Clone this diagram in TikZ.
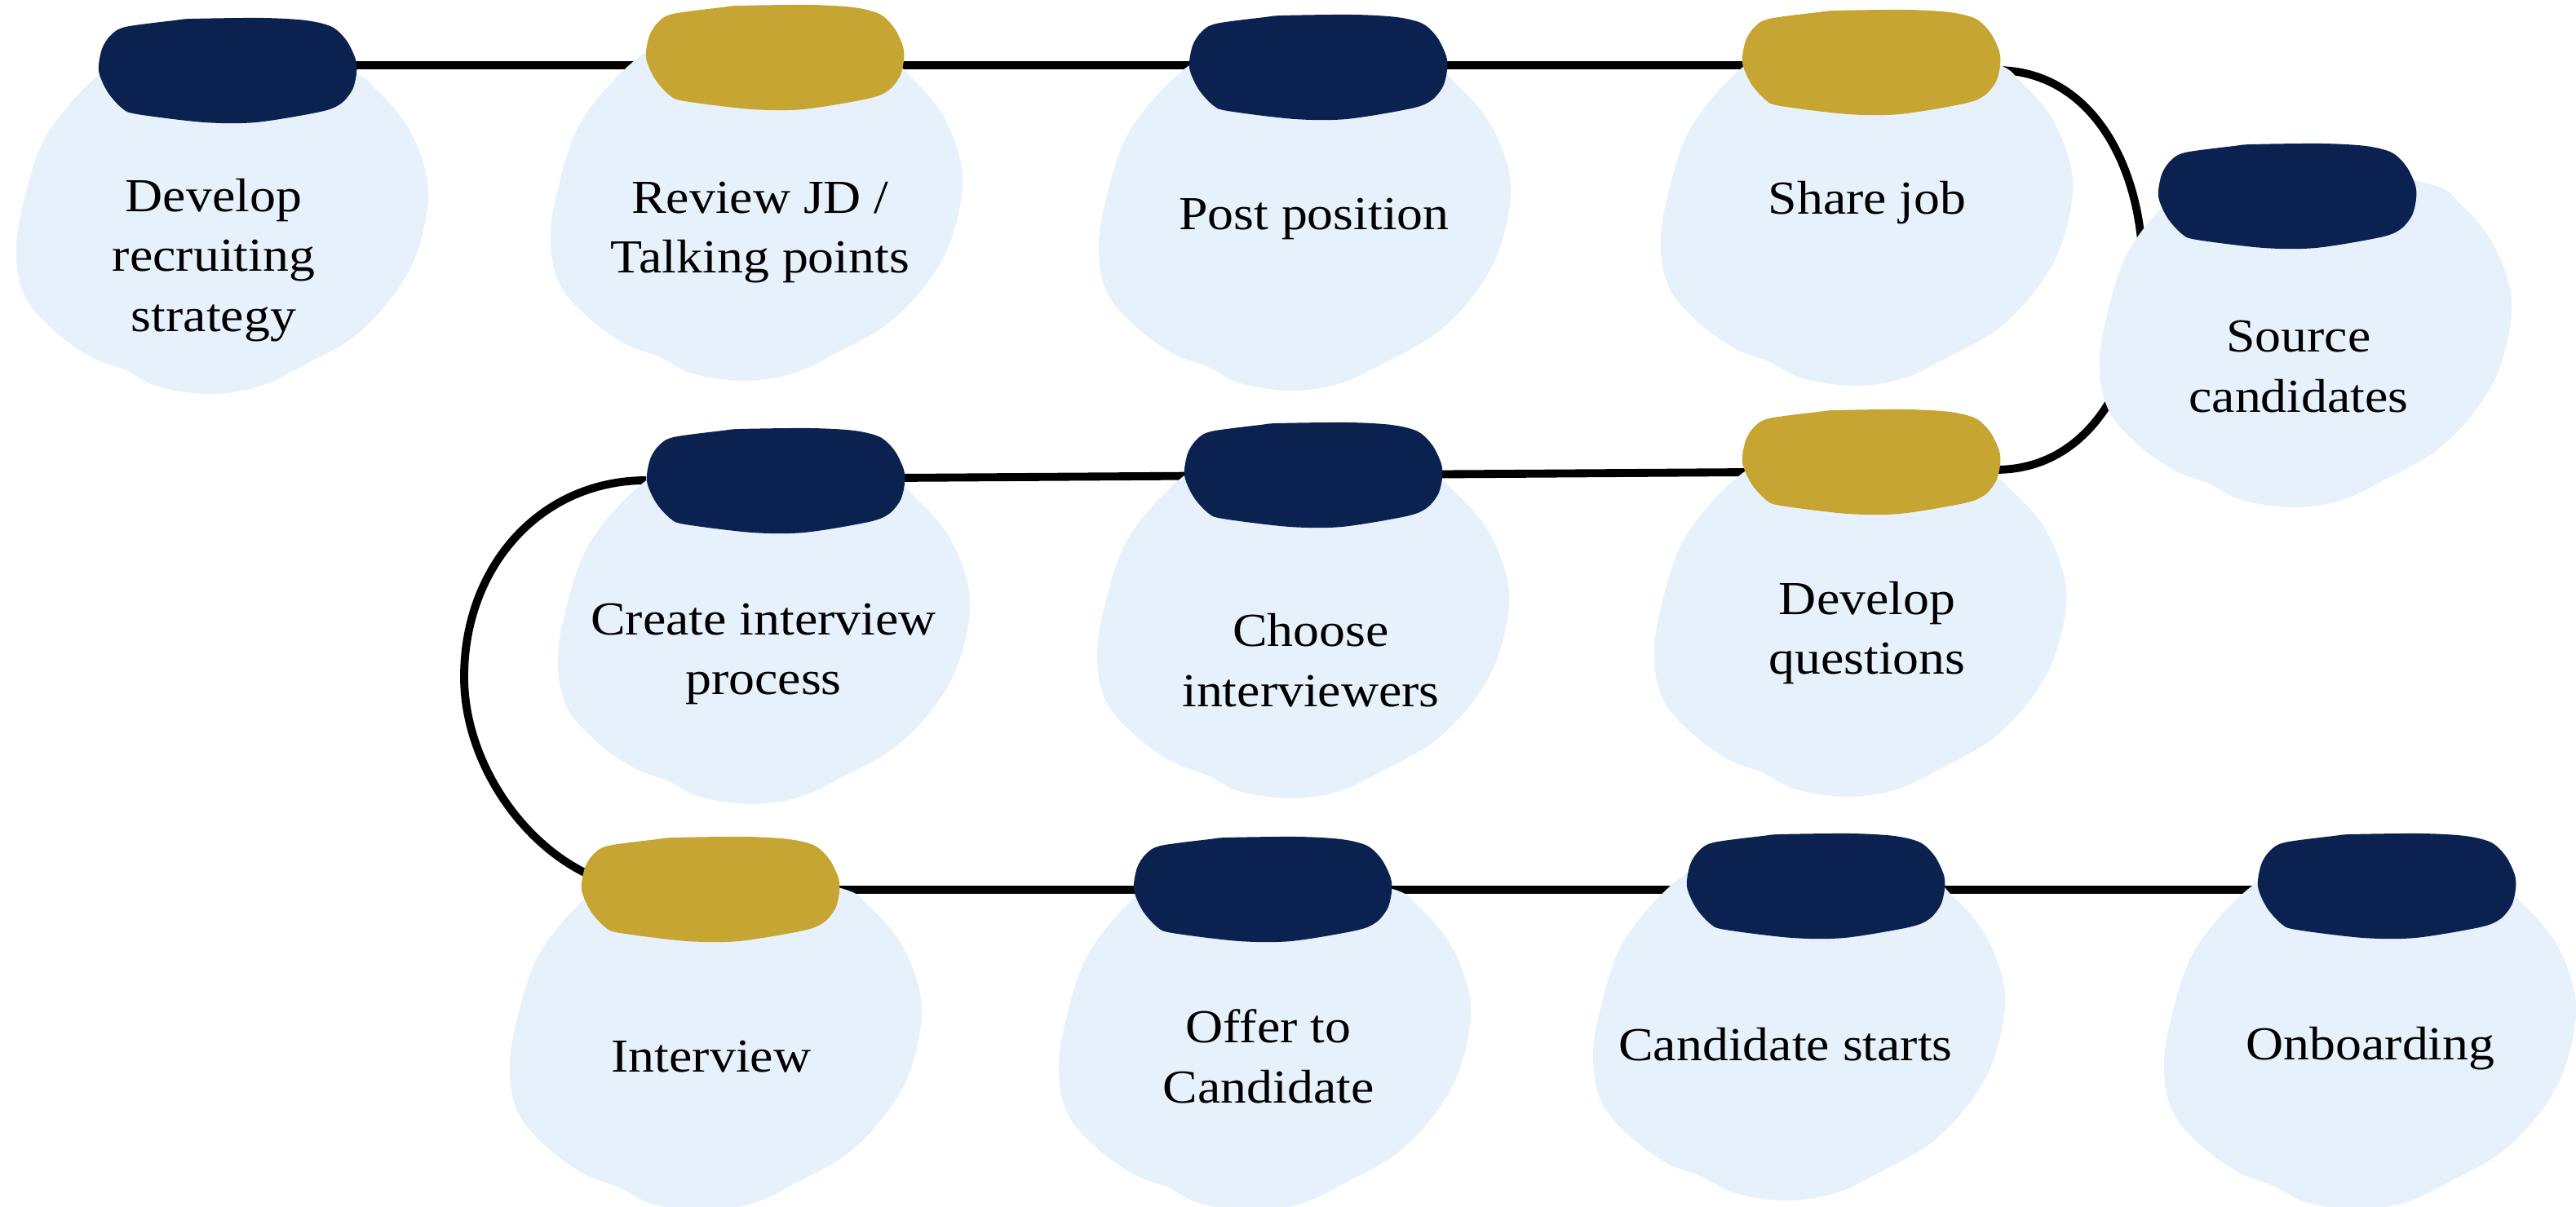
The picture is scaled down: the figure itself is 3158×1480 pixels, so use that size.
\documentclass[tikz,border=0pt]{standalone}
\usepackage{fontspec}
\setmainfont{Liberation Serif}[FakeStretch=1.1]
\usetikzlibrary{calc}
\definecolor{navyc}{HTML}{0B2250}
\definecolor{goldc}{HTML}{C6A532}
\definecolor{blobc}{HTML}{E7F1FC}
\tikzset{
  pillnode/.style={shape=rectangle, draw=none, inner sep=0pt, minimum width=3.16cm, minimum height=1.28cm},
  conn/.style={draw=black, line width=2.8pt},
  lbl/.style={align=center, inner sep=0pt, font=\fontsize{16.5pt}{21pt}\selectfont, text=black}
}
\newcommand{\blobat}[1]{\fill[blobc, shift={(#1)}] plot[smooth cycle, tension=0.6] coordinates {(-150,5) (-215,80) (-245,170) (-252,230) (-240,280) (-205,320) (-160,352) (-118,368) (-78,388) (-15,397) (45,388) (100,362) (160,328) (205,283) (236,232) (252,170) (250,125) (228,70) (190,25) (150,0) (0,-25) (-100,-15)};}
\newcommand{\pillfill}[2]{\fill[#2, shift={(#1.center)}] plot[smooth cycle, tension=0.5] coordinates {(-125,-53) (-65,-61) (-43,-63) (42,-64) (96,-61) (128,-53) (146,-36) (157,-13) (158,4) (153,24) (139,41) (114,51) (35,64) (-29,64) (-111,54) (-129,47) (-147,27) (-158,1) (-154,-26) (-143,-43)};}
\begin{document}
\begin{tikzpicture}[x=0.01cm, y=-0.01cm]
\useasboundingbox (0,0) rectangle (3158,1480);
\clip (0,0) rectangle (3158,1480);
% pill anchor nodes
\node[pillnode] (p1) at (279,86) {};
\node[pillnode] (p2) at (950,70) {};
\node[pillnode] (p3) at (1616,82) {};
\node[pillnode] (p4) at (2294,76) {};
\node[pillnode] (p5) at (2804,240) {};
\node[pillnode] (p6) at (2294,566) {};
\node[pillnode] (p7) at (1610,582) {};
\node[pillnode] (p8) at (951,589) {};
\node[pillnode] (p9) at (871,1090) {};
\node[pillnode] (p10) at (1548,1090) {};
\node[pillnode] (p11) at (2226,1086) {};
\node[pillnode] (p12) at (2926,1086) {};
\coordinate (r1) at (0,80);
\coordinate (r3) at (0,1091);
\coordinate (cL) at (569,830);
% connectors
\draw[conn] (p1.center |- r1) -- (p2.center |- r1) -- (p3.center |- r1) -- (p4.center |- r1);
\draw[conn] ($(p4.east)+(-6,10)$) .. controls +(240,0) and +(240,0) .. ($(p6.east)+(-6,10)$);
\draw[conn] ($(p8.center)+(0,-2)$) -- ($(p6.center)+(0,12)$);
\draw[conn] (p8.west) .. controls +(-130,0) and +(0,-135) .. (cL) .. controls +(0,100) and +(-85,-40) .. ($(p9.center)+(-150,-18)$);
\draw[conn] (p9.center |- r3) -- (p10.center |- r3) -- (p11.center |- r3) -- (p12.center |- r3);
% blobs
\blobat{272,86}
\blobat{927,70}
\blobat{1599,82}
\blobat{2288,76}
\blobat{2826,225}
\blobat{2280,580}
\blobat{1597,582}
\blobat{936,589}
\blobat{877,1088}
\blobat{1550,1088}
\blobat{2205,1075}
\blobat{2905,1086}
% pills
\pillfill{p1}{navyc}
\pillfill{p2}{goldc}
\pillfill{p3}{navyc}
\pillfill{p4}{goldc}
\pillfill{p5}{navyc}
\pillfill{p6}{goldc}
\pillfill{p7}{navyc}
\pillfill{p8}{navyc}
\pillfill{p9}{goldc}
\pillfill{p10}{navyc}
\pillfill{p11}{navyc}
\pillfill{p12}{navyc}
% labels
\node[lbl] (t1) at (262,319) {Develop\\recruiting\\strategy};
\node[lbl] (t2) at (932,285) {Review JD /\\Talking points};
\node[lbl] (t3) at (1611,268) {Post position};
\node[lbl] (t4) at (2289,249) {Share job};
\node[lbl] (t5) at (2818,450) {Source\\candidates};
\node[lbl] (t6) at (2289,776) {Develop\\questions};
\node[lbl] (t7) at (1607,810) {Choose\\interviewers};
\node[lbl] (t8) at (936,802) {Create interview\\process};
\node[lbl] (t9) at (872,1296) {Interview};
\node[lbl] (t10) at (1555,1295) {Offer to\\Candidate};
\node[lbl] (t11) at (2189,1281) {Candidate starts};
\node[lbl] (t12) at (2906,1286) {Onboarding};
\end{tikzpicture}
\end{document}
